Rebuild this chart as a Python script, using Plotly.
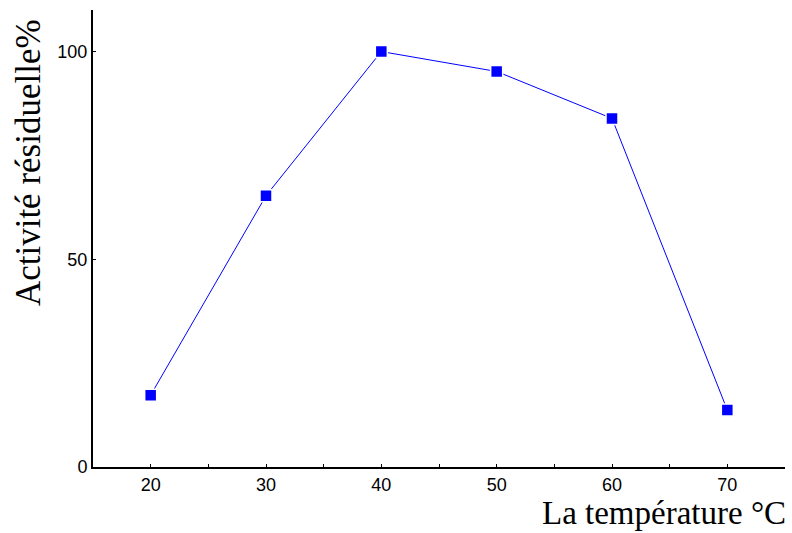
import plotly.graph_objects as go

temperature = [20, 30, 40, 50, 60, 70]
activite = [17.3, 65.3, 100, 95.2, 83.9, 13.7]
x_ticks = [20, 30, 40, 50, 60, 70]
x_minor = [25, 35, 45, 55, 65]
y_ticks = [0, 50, 100]

fig = go.Figure()
fig.add_trace(go.Scatter(
    x=temperature, y=activite, mode="lines+markers",
    line=dict(color="#0000ff", width=1),
    marker=dict(symbol="square", size=12, color="#0000ff", line=dict(color="white", width=1.5)),
    showlegend=False, cliponaxis=False,
))

fig.update_layout(
    width=792, height=533,
    margin=dict(l=93, r=7, t=10, b=66),
    paper_bgcolor="white", plot_bgcolor="white",
    font=dict(family="Liberation Sans, Arial", size=18, color="black"),
    xaxis=dict(range=[15, 75], tickvals=x_ticks, ticks="inside", ticklen=3, tickwidth=1,
               tickcolor="black", showline=True, linecolor="black", linewidth=2,
               showgrid=False, zeroline=False, ticklabelstandoff=0,
               minor=dict(tickvals=x_minor, ticks="inside", ticklen=3, tickcolor="black")),
    yaxis=dict(range=[0, 110], tickvals=y_ticks, ticks="inside", ticklen=3, tickwidth=1,
               tickcolor="black", showline=True, linecolor="black", linewidth=2,
               showgrid=False, zeroline=False, ticklabelstandoff=0),
    annotations=[
        dict(text="La température °C", x=1, y=0, xref="paper", yref="paper",
             xanchor="right", yanchor="top", yshift=-26, xshift=3, showarrow=False,
             font=dict(family="Liberation Serif, Times New Roman", size=33, color="black")),
        dict(text="Activité résiduelle%", x=0, y=0.665, xref="paper", yref="paper",
             xanchor="center", yanchor="middle", xshift=-65, textangle=-90, showarrow=False,
             font=dict(family="Liberation Serif, Times New Roman", size=35, color="black")),
    ],
)

fig.write_html("out.html", config={"displayModeBar": False},
               post_script="document.body.style.margin='0';document.body.style.overflow='hidden';")
